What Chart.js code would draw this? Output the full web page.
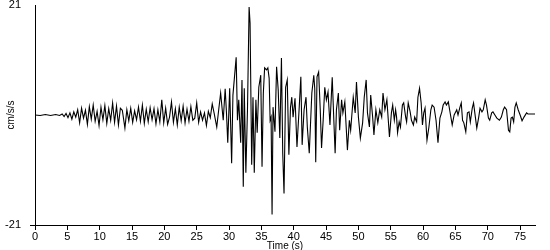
<!DOCTYPE html>
<html>
<head>
<meta charset="utf-8">
<script src="https://cdn.jsdelivr.net/npm/chart.js@4/dist/chart.umd.min.js"></script>
<style>
html,body{margin:0;padding:0;background:#fff;}
#wrap{width:550px;height:250px;position:relative;}
</style>
</head>
<body>
<div id="wrap"><canvas id="c" width="550" height="250"></canvas></div>
<script>
// Time (s) of each read-off turning point
const timeS = [
0,0.8,1.6,2.4,3.2,3.8,4.2,4.5,4.8,5.1,5.4,5.7,6.0,6.3,6.6,6.9,7.2,7.5,7.8,8.1,8.4,8.7,9.0,9.3,9.6,9.9,
10.2,10.5,10.8,11.1,11.4,11.7,12.0,12.3,12.6,12.9,13.2,13.5,13.9,14.2,14.5,14.8,15.1,15.4,15.7,16.0,16.3,16.6,16.9,
17.2,17.5,17.8,18.1,18.4,18.7,19.0,19.3,19.6,19.9,20.2,20.5,20.8,21.1,21.4,21.7,22.0,22.3,22.6,22.9,23.2,23.5,23.8,
24.1,24.4,24.7,25.0,25.3,25.6,25.9,26.2,26.5,26.8,27.1,27.4,27.7,28.1,28.4,28.7,29.1,29.4,29.6,29.8,30.1,30.4,30.6,
31.1,31.3,31.5,31.8,32.0,32.2,32.35,32.6,32.85,33.1,33.25,33.5,33.7,33.9,34.15,34.35,34.6,34.9,35.1,35.3,35.5,35.8,
36.0,36.2,36.35,36.5,36.65,36.8,37.1,37.35,37.6,37.85,38.1,38.3,38.5,38.75,39.0,39.25,39.5,39.7,39.9,40.2,40.5,40.85,
41.1,41.3,41.6,41.9,42.1,42.4,42.8,43.1,43.25,43.4,43.6,43.85,44.1,44.3,44.55,44.8,45.05,45.3,45.6,45.95,46.2,46.4,
46.6,46.9,47.1,47.4,47.6,47.9,48.3,48.6,48.8,49.2,49.5,49.7,50.0,50.3,50.65,50.9,51.2,51.4,51.7,51.9,52.2,52.4,52.7,
53.0,53.3,53.6,53.8,54.1,54.4,54.8,55.1,55.3,55.55,55.75,55.9,56.05,56.3,56.5,56.8,57.0,57.3,57.45,57.7,58.0,58.2,
58.5,58.7,59.0,59.2,59.45,59.7,59.9,60.1,60.3,60.6,60.9,61.2,61.4,61.7,62.0,62.3,62.6,62.9,63.1,63.4,63.6,63.9,64.1,
64.5,64.8,65.2,65.4,65.7,65.9,66.1,66.3,66.6,66.85,67.1,67.3,67.6,67.8,68.1,68.3,68.6,68.8,69.1,69.3,69.6,69.8,70.1,
70.3,70.6,70.8,71.1,71.4,71.8,72.1,72.4,72.6,72.9,73.2,73.4,73.6,73.8,74.0,74.2,74.4,74.7,75.0,75.3,75.6,76.0,76.2,77.3
];
// Acceleration (cm/s/s) at those times
const accel = [
0,-0.1,0.1,-0.1,0.1,-0.1,0.2,-0.3,0.3,-0.5,0.4,-0.8,0.6,-0.4,1.0,-1.5,1.3,-0.6,0.9,-1.8,1.6,-0.8,1.9,-1.2,0.7,-2.0,
1.5,-0.9,1.8,-1.6,1.2,-1.0,2.3,-1.4,1.7,-1.9,1.3,0.9,-2.5,1.0,-1.1,1.3,-1.4,0.8,-0.9,1.5,-1.2,1.9,-1.6,
1.1,-1.3,1.4,-0.9,1.2,-1.7,1.0,-1.3,2.9,-1.5,1.3,-1.8,-0.4,2.5,-1.4,1.2,-1.9,1.5,-1.1,1.7,-1.5,1.1,-1.2,
1.6,-1.0,-0.6,2.3,-1.4,0.6,-1.0,0.4,-2.0,0.7,-0.5,2.1,0.3,-2.3,1.0,4.2,-1.0,5.0,0.5,-5.3,5.1,-9.2,3.8,
11,-1,2.9,-5.3,6.7,-13.7,5.1,-11,1,20.6,17.5,-9.5,3.4,-11,2.9,-3.4,5.3,7.6,-9.9,4.2,9,8.6,
9,7,-1,-0.4,-19,1.5,-3.2,9.2,4.8,-4.4,10.9,-7.3,-15,5.3,6.7,-7.6,1.5,3.4,-0.4,3.2,-6.1,1.5,
7.3,-5.7,1,3.4,-2.3,-7.3,4.2,7.6,5,-9,7.3,8.2,1,-6.3,-1,5.3,2.9,4.4,-1.9,7.2,-1,-7.3,
1,4.2,-2.9,2.9,0.4,2.5,-6.7,-1,-2.9,3.4,0.4,6.3,-0.4,-4.4,-1.5,3.4,6.7,0.4,-2.3,3.8,-0.4,-3.8,1,
-1.5,1,-0.4,4.2,1,2.9,-4.2,0.4,1.9,-1,1,-0.4,-3.4,-1.3,-2.3,1.9,2.3,-0.4,-1.3,2.3,0.6,-1,
-1.9,-0.4,-1.3,3.4,5.1,2.3,-1.9,0.4,1.3,-4.8,-2.3,1,1.9,1.5,-1,-5.3,-0.6,0.6,1.9,2.5,1.9,2.5,1,
-1.9,0,1,0,1.5,2.3,-1,-1.5,-3.2,0.4,0.6,-1.3,1.3,2.3,-0.6,-2.5,-0.4,1.3,0.6,1,2.9,1.9,-0.6,
-1,0.4,0.6,0,-0.6,-1,-0.4,1,1.5,1,-2.9,-3.2,-0.6,-0.4,-1.3,1.5,2.3,1,0,-1.1,-0.4,0.4,0.2,0.2
];
const xTickValues = [0,5,10,15,20,25,30,35,40,45,50,55,60,65,70,75];
const yTickValues = [-21,21];
const xTitle = 'Time (s)';
const yTitle = 'cm/s/s';

const points = timeS.map((t,i)=>({x:t,y:accel[i]}));
const FONT = 'Liberation Sans, Arial, sans-serif';

new Chart(document.getElementById('c'), {
  type: 'line',
  data: { datasets: [{ data: points, borderColor: '#000', borderWidth: 1.1, pointRadius: 0, tension: 0, fill: false }] },
  options: {
    responsive: false,
    animation: false,
    events: [],
    layout: { padding: { top: 5, right: 15, left: 0, bottom: 0 } },
    plugins: { legend: { display: false }, tooltip: { enabled: false } },
    scales: {
      x: {
        type: 'linear', min: 0, max: 77.3,
        afterBuildTicks: s => { s.ticks = xTickValues.map(v => ({ value: v })); },
        afterFit: s => { s.height = 25; s.paddingLeft = 0; s.paddingRight = 0; },
        grid: { display: true, drawOnChartArea: false, drawTicks: true, tickLength: 5, color: '#000' },
        border: { display: true, color: '#000', width: 1 },
        ticks: { color: '#000', padding: 0, maxRotation: 0, autoSkip: false, font: { family: FONT, size: 11 } },
        title: { display: true, text: xTitle, color: '#000', font: { family: FONT, size: 10 }, padding: { top: 0, bottom: -2 } }
      },
      y: {
        type: 'linear', min: -21, max: 21,
        afterBuildTicks: s => { s.ticks = yTickValues.map(v => ({ value: v })); },
        afterFit: s => { s.width = 35; s.paddingTop = 0; s.paddingBottom = 0; },
        grid: { display: true, drawOnChartArea: false, drawTicks: true, tickLength: 5,
                color: c => (c.tick && c.tick.value === -21) ? '#000' : 'rgba(0,0,0,0)' },
        border: { display: true, color: '#000', width: 1 },
        ticks: { color: '#000', padding: 9, font: { family: FONT, size: 11 } },
        title: { display: true, text: yTitle, color: '#000', font: { family: FONT, size: 10 }, padding: { top: 5, bottom: 0 } }
      }
    }
  }
});
</script>
</body>
</html>
